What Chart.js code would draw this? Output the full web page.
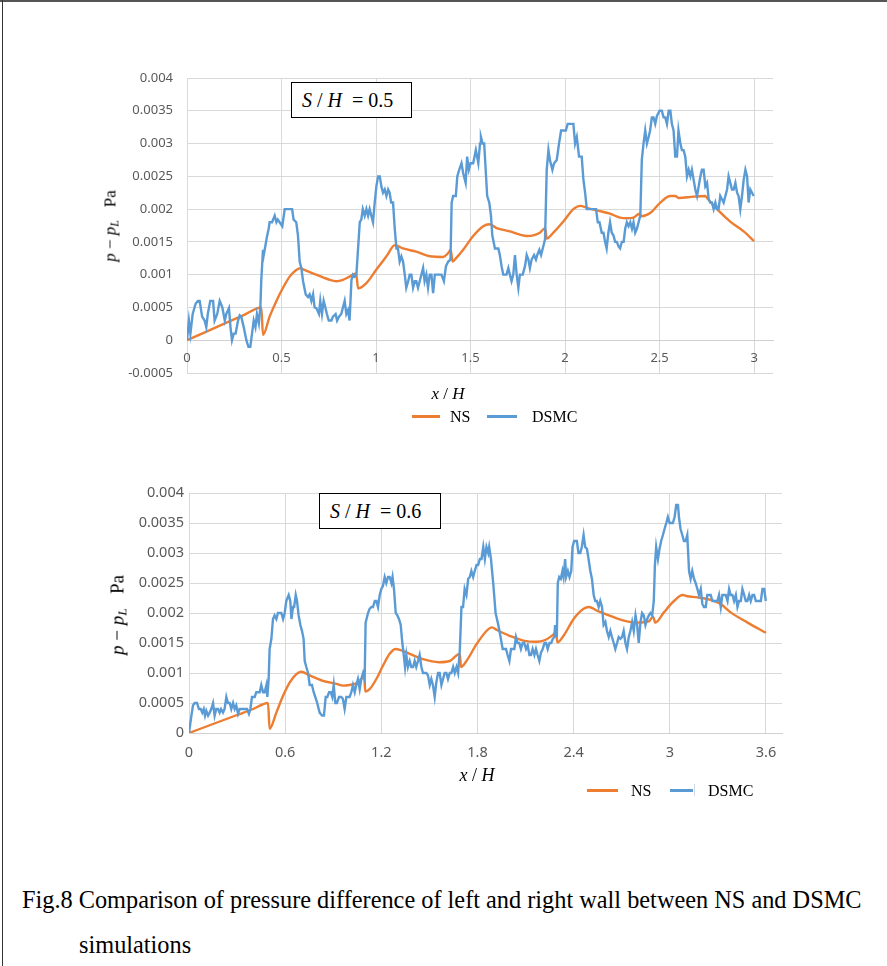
<!DOCTYPE html>
<html><head><meta charset="utf-8">
<script src="https://cdn.jsdelivr.net/npm/chart.js@4.4.0/dist/chart.umd.min.js"></script>
<style>
html,body{margin:0;padding:0;background:#fff;}
#fig{position:relative;width:887px;height:966px;overflow:hidden;background:#fff;}
.topline{position:absolute;left:0;top:0;width:887px;height:2px;background:#555;}
.leftline{position:absolute;left:2px;top:0;width:1px;height:966px;background:#333;}
canvas{position:absolute;left:0;}
.serif{font-family:"Liberation Serif","Times New Roman",serif;color:#000;position:absolute;white-space:nowrap;line-height:1;}
.ytitle{transform:translate(-50%,-50%) rotate(-90deg);}
.ctr{transform:translate(-50%,-50%);}
.vc{transform:translateY(-50%);}
.box{position:absolute;border:1.5px solid #000;background:#fff;box-sizing:border-box;}
.box span{position:absolute;left:10px;top:50%;transform:translateY(-50%);font-family:"Liberation Serif","Times New Roman",serif;font-size:20px;white-space:nowrap;line-height:1;}
.lg{position:absolute;height:2.5px;}
sub{font-size:70%;vertical-align:-0.25em;line-height:0;}
</style></head>
<body>
<div id="fig">
  <div class="topline"></div>
  <div class="leftline"></div>
  <canvas id="c1" width="887" height="440" style="top:0"></canvas>
  <canvas id="c2" width="887" height="420" style="top:440px"></canvas>

  <div class="box" style="left:291px;top:82px;width:121px;height:36px;"><span><i>S</i> / <i>H</i>&nbsp; = 0.5</span></div>
  <div class="box" style="left:319px;top:493px;width:122px;height:36px;"><span><i>S</i> / <i>H</i>&nbsp; = 0.6</span></div>

  <div class="serif ytitle" style="left:110px;top:226px;font-size:17px;"><i>p</i> − <i>p</i><sub><i>L</i></sub>&nbsp;&nbsp;&nbsp;Pa</div>
  <div class="serif ytitle" style="left:117px;top:615px;font-size:19px;"><i>p</i> − <i>p</i><sub><i>L</i></sub>&nbsp;&nbsp;&nbsp;Pa</div>

  <div class="serif ctr" style="left:448px;top:393px;font-size:17px;"><i>x</i> / <i>H</i></div>
  <div class="serif ctr" style="left:477px;top:775px;font-size:18px;"><i>x</i> / <i>H</i></div>

  <div class="lg" style="left:412px;top:415px;width:28px;background:#ED7D31;"></div>
  <div class="serif vc" style="left:450px;top:417px;font-size:16px;">NS</div>
  <div class="lg" style="left:487px;top:415px;width:30px;background:#5B9BD5;"></div>
  <div class="serif vc" style="left:532px;top:417px;font-size:16px;">DSMC</div>

  <div class="lg" style="left:587px;top:789px;width:31px;background:#ED7D31;"></div>
  <div class="serif vc" style="left:631px;top:791px;font-size:16px;">NS</div>
  <div class="lg" style="left:670px;top:789px;width:23px;background:#5B9BD5;"></div>
  <div class="lg" style="left:694px;top:784px;width:1px;height:12px;background:#cfd8e3;"></div>
  <div class="serif vc" style="left:708px;top:791px;font-size:16px;">DSMC</div>

  <div id="cap1" class="serif vc" style="left:22px;top:900px;font-size:21px;">Fig.8 Comparison of pressure difference of left and right wall between NS and DSMC</div>
  <div id="cap2" class="serif vc" style="left:79px;top:945px;font-size:21px;">simulations</div>
</div>
<script>
// ---------- DATA ----------
const xTicks1 = [0, 0.5, 1, 1.5, 2, 2.5, 3];
const yTicks1 = [-0.0005, 0, 0.0005, 0.001, 0.0015, 0.002, 0.0025, 0.003, 0.0035, 0.004];
const xTicks2 = [0, 0.6, 1.2, 1.8, 2.4, 3, 3.6];
const yTicks2 = [0, 0.0005, 0.001, 0.0015, 0.002, 0.0025, 0.003, 0.0035, 0.004];
const seriesNames = ['NS', 'DSMC'];

const ns1 = [[0,0],[0.1,0.000128],[0.2,0.000256],[0.3,0.000384],[0.393,0.0005],[0.402,0.00008],[0.437,0.00036],[0.473,0.0006],[0.508,0.0008],[0.543,0.00097],[0.578,0.00107],[0.6,0.0011],[0.614,0.00108],[0.684,0.001],[0.755,0.00092],[0.79,0.0009],[0.825,0.00092],[0.86,0.00097],[0.895,0.00102],[0.905,0.00079],[0.949,0.00087],[1.0,0.00107],[1.055,0.00128],[1.1,0.00145],[1.143,0.0014],[1.213,0.00135],[1.284,0.00128],[1.355,0.00127],[1.382,0.00133],[1.395,0.00138],[1.405,0.0012],[1.426,0.00126],[1.461,0.00138],[1.514,0.00159],[1.567,0.00174],[1.6,0.00177],[1.638,0.00171],[1.708,0.00166],[1.761,0.00161],[1.8,0.00159],[1.832,0.0016],[1.867,0.00164],[1.895,0.00171],[1.903,0.00155],[1.938,0.00164],[1.991,0.00181],[2.044,0.002],[2.08,0.00205],[2.115,0.00202],[2.168,0.00198],[2.238,0.00193],[2.291,0.00187],[2.327,0.00186],[2.362,0.00187],[2.394,0.00193],[2.405,0.00189],[2.45,0.00194],[2.504,0.0021],[2.557,0.0022],[2.583,0.0022],[2.6,0.00217],[2.68,0.00219],[2.742,0.0022],[2.751,0.00217],[2.804,0.002],[2.874,0.00181],[2.945,0.00166],[3.0,0.00151]];

const dsmc1 = [[0,0],[0.01,0.0003],[0.018,0.0001],[0.03,0.0004],[0.046,0.00056],[0.058,0.0006],[0.067,0.0006],[0.08,0.00036],[0.093,0.0003],[0.102,0.0002],[0.11,0.0004],[0.123,0.0006],[0.138,0.0006],[0.146,0.0003],[0.16,0.0004],[0.173,0.0006],[0.187,0.0005],[0.2,0.0003],[0.208,0.0004],[0.222,0.00049],[0.23,0.0002],[0.238,0],[0.247,0.0001],[0.257,0.0001],[0.27,0.0003],[0.279,0.00038],[0.287,0.00036],[0.3,0.0002],[0.314,0],[0.325,-0.0001],[0.335,-0.0001],[0.344,0.0001],[0.353,0.0003],[0.362,0.0002],[0.37,0.0004],[0.38,0.00026],[0.388,0.0005],[0.393,0.00092],[0.402,0.00138],[0.406,0.0013],[0.414,0.00143],[0.423,0.00158],[0.432,0.0017],[0.437,0.0018],[0.45,0.0018],[0.464,0.0019],[0.473,0.0018],[0.48,0.00184],[0.49,0.0018],[0.504,0.00174],[0.517,0.002],[0.543,0.002],[0.556,0.002],[0.564,0.00184],[0.578,0.0018],[0.587,0.0016],[0.596,0.0012],[0.605,0.0011],[0.614,0.0009],[0.628,0.0007],[0.64,0.00066],[0.649,0.0007],[0.658,0.0006],[0.667,0.0007],[0.675,0.0005],[0.684,0.00049],[0.698,0.0004],[0.705,0.0006],[0.714,0.0004],[0.723,0.0006],[0.732,0.0005],[0.74,0.0004],[0.75,0.0003],[0.764,0.0003],[0.772,0.00036],[0.786,0.0004],[0.794,0.0003],[0.804,0.00036],[0.816,0.0004],[0.825,0.0005],[0.834,0.0006],[0.843,0.0004],[0.852,0.00046],[0.86,0.0003],[0.87,0.00092],[0.878,0.001],[0.887,0.00097],[0.896,0.001],[0.905,0.0014],[0.914,0.0018],[0.922,0.00184],[0.93,0.002],[0.94,0.0019],[0.949,0.002],[0.958,0.0019],[0.966,0.002],[0.975,0.0019],[0.984,0.0018],[0.993,0.0021],[1.002,0.00235],[1.011,0.0025],[1.02,0.0025],[1.028,0.00235],[1.037,0.00225],[1.046,0.0023],[1.055,0.0022],[1.064,0.0023],[1.072,0.00225],[1.08,0.0021],[1.09,0.0021],[1.099,0.0017],[1.108,0.0014],[1.116,0.0014],[1.125,0.0012],[1.134,0.00128],[1.143,0.0012],[1.152,0.001],[1.16,0.0008],[1.17,0.0009],[1.178,0.001],[1.187,0.001],[1.196,0.0008],[1.205,0.0009],[1.213,0.0009],[1.222,0.0008],[1.231,0.0009],[1.24,0.001],[1.249,0.0011],[1.257,0.0009],[1.266,0.001],[1.275,0.0008],[1.284,0.001],[1.293,0.001],[1.302,0.00072],[1.311,0.001],[1.329,0.001],[1.346,0.001],[1.359,0.0009],[1.37,0.00113],[1.382,0.0012],[1.394,0.00123],[1.4,0.0021],[1.408,0.0022],[1.422,0.0022],[1.43,0.0025],[1.44,0.0026],[1.452,0.0027],[1.461,0.00255],[1.474,0.0024],[1.482,0.0028],[1.491,0.0026],[1.5,0.0027],[1.514,0.0027],[1.528,0.0029],[1.541,0.0027],[1.55,0.003],[1.555,0.0031],[1.564,0.003],[1.572,0.003],[1.58,0.0026],[1.588,0.0022],[1.599,0.0021],[1.608,0.0019],[1.615,0.0016],[1.629,0.0014],[1.647,0.0014],[1.655,0.0013],[1.664,0.00113],[1.673,0.001],[1.682,0.001],[1.69,0.001],[1.7,0.0011],[1.708,0.001],[1.717,0.0009],[1.726,0.001],[1.735,0.0013],[1.744,0.001],[1.753,0.0008],[1.761,0.001],[1.776,0.001],[1.788,0.00113],[1.797,0.0013],[1.806,0.00123],[1.814,0.0011],[1.823,0.00123],[1.836,0.0013],[1.846,0.00123],[1.853,0.0013],[1.864,0.00138],[1.873,0.0013],[1.882,0.0014],[1.894,0.00154],[1.903,0.0026],[1.912,0.0029],[1.92,0.00275],[1.933,0.0026],[1.942,0.0027],[1.956,0.00275],[1.968,0.003],[1.979,0.0032],[1.991,0.0032],[2.004,0.0032],[2.014,0.0033],[2.027,0.0033],[2.044,0.0033],[2.053,0.003],[2.062,0.0031],[2.074,0.0028],[2.088,0.0028],[2.097,0.00245],[2.106,0.00225],[2.115,0.002],[2.129,0.002],[2.15,0.002],[2.164,0.002],[2.173,0.0018],[2.182,0.0018],[2.194,0.00164],[2.203,0.00164],[2.212,0.0015],[2.22,0.0014],[2.229,0.00164],[2.238,0.0018],[2.247,0.00164],[2.256,0.0016],[2.265,0.0015],[2.274,0.0015],[2.283,0.00143],[2.291,0.0014],[2.3,0.0015],[2.31,0.0015],[2.318,0.0017],[2.327,0.0018],[2.336,0.00174],[2.345,0.0018],[2.354,0.0017],[2.362,0.0018],[2.371,0.00164],[2.38,0.0017],[2.389,0.0018],[2.398,0.0019],[2.406,0.00275],[2.415,0.003],[2.424,0.0032],[2.433,0.003],[2.442,0.0031],[2.45,0.0032],[2.459,0.0034],[2.468,0.0034],[2.477,0.0033],[2.486,0.00342],[2.5,0.0035],[2.512,0.0035],[2.521,0.0034],[2.53,0.0034],[2.539,0.0033],[2.548,0.0035],[2.557,0.0035],[2.565,0.0033],[2.574,0.0032],[2.583,0.0028],[2.592,0.0028],[2.6,0.0032],[2.61,0.003],[2.618,0.0029],[2.627,0.0029],[2.636,0.0028],[2.645,0.0025],[2.654,0.0026],[2.663,0.0025],[2.671,0.0026],[2.68,0.00245],[2.689,0.0023],[2.698,0.0022],[2.707,0.00235],[2.716,0.0025],[2.724,0.0026],[2.733,0.0026],[2.742,0.00235],[2.751,0.0024],[2.76,0.00215],[2.768,0.0021],[2.777,0.0021],[2.786,0.002],[2.795,0.0021],[2.804,0.002],[2.812,0.002],[2.821,0.0022],[2.83,0.00215],[2.839,0.0021],[2.848,0.0022],[2.857,0.0023],[2.865,0.0025],[2.874,0.0024],[2.883,0.0023],[2.892,0.0023],[2.901,0.0024],[2.91,0.00225],[2.918,0.0022],[2.927,0.002],[2.936,0.0022],[2.945,0.00245],[2.954,0.0026],[2.963,0.0025],[2.971,0.0021],[2.98,0.0023],[2.989,0.00225],[2.998,0.0022]];

const ns2 = [[0,0],[0.1,0.0001],[0.2,0.0002],[0.3,0.0003],[0.4,0.0004],[0.493,0.0005],[0.503,0.00007],[0.545,0.00034],[0.587,0.00062],[0.628,0.00084],[0.67,0.00098],[0.7,0.00102],[0.753,0.00096],[0.836,0.00087],[0.92,0.00082],[0.96,0.00079],[1.0,0.0008],[1.044,0.00083],[1.075,0.0009],[1.093,0.00093],[1.1,0.00069],[1.127,0.00073],[1.169,0.0009],[1.21,0.00112],[1.252,0.00132],[1.29,0.0014],[1.31,0.00139],[1.377,0.00132],[1.46,0.00123],[1.56,0.00118],[1.627,0.0012],[1.669,0.00129],[1.69,0.00132],[1.697,0.0011],[1.731,0.0012],[1.794,0.00148],[1.856,0.0017],[1.89,0.00176],[1.919,0.00172],[2.0,0.00162],[2.086,0.00154],[2.17,0.00152],[2.222,0.00155],[2.264,0.00162],[2.29,0.00167],[2.299,0.00151],[2.337,0.00162],[2.4,0.0019],[2.462,0.00207],[2.495,0.0021],[2.545,0.00204],[2.65,0.00193],[2.733,0.00186],[2.796,0.00184],[2.869,0.00186],[2.895,0.00194],[2.91,0.00184],[2.963,0.00201],[3.026,0.0022],[3.08,0.0023],[3.109,0.00228],[3.172,0.00226],[3.255,0.00222],[3.318,0.00215],[3.38,0.00201],[3.485,0.00184],[3.6,0.00167]];

const dsmc2 = [[0,0],[0.015,0.00029],[0.025,0.00046],[0.035,0.0005],[0.05,0.0005],[0.062,0.0004],[0.073,0.0004],[0.083,0.00034],[0.092,0.0004],[0.1,0.00029],[0.108,0.00037],[0.119,0.00029],[0.129,0.00034],[0.139,0.0004],[0.15,0.0005],[0.16,0.00029],[0.17,0.0004],[0.181,0.0004],[0.191,0.00034],[0.2,0.0004],[0.212,0.00034],[0.222,0.0004],[0.233,0.0006],[0.243,0.0005],[0.254,0.0005],[0.264,0.0004],[0.275,0.0005],[0.285,0.0004],[0.295,0.00046],[0.306,0.00032],[0.316,0.0004],[0.333,0.0004],[0.347,0.0004],[0.362,0.0004],[0.374,0.00032],[0.383,0.0004],[0.393,0.0006],[0.41,0.0006],[0.42,0.00068],[0.43,0.00068],[0.441,0.00068],[0.451,0.0008],[0.462,0.00068],[0.472,0.00068],[0.483,0.0008],[0.489,0.0006],[0.497,0.0009],[0.503,0.0014],[0.514,0.00157],[0.524,0.0019],[0.534,0.00196],[0.545,0.0019],[0.555,0.002],[0.566,0.002],[0.576,0.002],[0.587,0.0019],[0.597,0.002],[0.607,0.0022],[0.622,0.0023],[0.632,0.0022],[0.639,0.0019],[0.649,0.0021],[0.656,0.0021],[0.666,0.0023],[0.674,0.0022],[0.684,0.00196],[0.695,0.0018],[0.705,0.0017],[0.715,0.00157],[0.722,0.0012],[0.732,0.0011],[0.743,0.001],[0.753,0.0008],[0.767,0.0008],[0.778,0.00068],[0.788,0.0006],[0.8,0.0005],[0.815,0.00034],[0.83,0.00029],[0.842,0.00029],[0.853,0.0006],[0.863,0.0006],[0.874,0.00068],[0.884,0.00068],[0.894,0.0006],[0.903,0.0008],[0.913,0.0005],[0.923,0.0005],[0.936,0.0006],[0.95,0.0006],[0.96,0.00057],[0.971,0.0004],[0.982,0.0006],[0.992,0.0006],[1.002,0.0006],[1.013,0.00068],[1.023,0.0008],[1.034,0.00068],[1.044,0.0008],[1.054,0.0009],[1.065,0.00073],[1.075,0.0009],[1.086,0.001],[1.096,0.0009],[1.102,0.00184],[1.117,0.002],[1.127,0.00207],[1.138,0.0021],[1.148,0.0021],[1.159,0.0022],[1.169,0.0022],[1.179,0.0021],[1.19,0.0023],[1.2,0.0024],[1.21,0.00245],[1.221,0.0026],[1.231,0.0025],[1.242,0.0026],[1.252,0.0026],[1.263,0.0025],[1.27,0.0026],[1.279,0.0024],[1.29,0.002],[1.3,0.00196],[1.31,0.0019],[1.321,0.0018],[1.331,0.0015],[1.34,0.0013],[1.348,0.0011],[1.356,0.0013],[1.366,0.0011],[1.377,0.0012],[1.387,0.0011],[1.398,0.0011],[1.408,0.0012],[1.418,0.0011],[1.429,0.0012],[1.439,0.0013],[1.45,0.0011],[1.46,0.001],[1.47,0.001],[1.481,0.001],[1.491,0.00096],[1.502,0.0008],[1.512,0.0009],[1.522,0.0008],[1.533,0.0006],[1.543,0.00084],[1.554,0.001],[1.564,0.001],[1.575,0.0008],[1.585,0.0009],[1.595,0.001],[1.606,0.001],[1.616,0.0009],[1.627,0.001],[1.637,0.001],[1.648,0.0011],[1.658,0.001],[1.669,0.0011],[1.679,0.001],[1.69,0.0014],[1.7,0.0021],[1.71,0.0021],[1.72,0.0024],[1.731,0.0023],[1.742,0.00257],[1.752,0.0026],[1.762,0.0027],[1.773,0.0026],[1.783,0.0027],[1.794,0.0028],[1.804,0.0028],[1.815,0.0029],[1.825,0.0029],[1.836,0.0031],[1.846,0.0029],[1.856,0.0031],[1.867,0.003],[1.873,0.0031],[1.884,0.0029],[1.898,0.0025],[1.913,0.002],[1.93,0.0018],[1.944,0.0016],[1.957,0.0014],[1.965,0.0014],[1.978,0.0014],[1.988,0.0013],[1.999,0.0012],[2.009,0.0014],[2.019,0.0014],[2.03,0.0014],[2.04,0.0016],[2.05,0.0015],[2.061,0.0015],[2.071,0.0014],[2.082,0.0015],[2.092,0.0015],[2.103,0.0014],[2.113,0.00146],[2.124,0.0013],[2.134,0.0013],[2.144,0.0014],[2.155,0.0013],[2.165,0.0014],[2.175,0.0013],[2.186,0.0012],[2.196,0.00134],[2.207,0.0014],[2.218,0.0015],[2.228,0.0015],[2.238,0.0014],[2.249,0.0015],[2.26,0.0015],[2.27,0.00157],[2.28,0.0016],[2.284,0.0018],[2.295,0.0016],[2.301,0.0025],[2.31,0.0026],[2.32,0.00257],[2.33,0.0027],[2.337,0.0026],[2.347,0.0029],[2.353,0.0026],[2.364,0.0027],[2.374,0.0026],[2.385,0.0027],[2.393,0.0031],[2.403,0.0032],[2.42,0.0032],[2.43,0.003],[2.441,0.003],[2.451,0.0031],[2.462,0.0033],[2.472,0.0031],[2.483,0.00307],[2.493,0.0029],[2.504,0.0027],[2.514,0.00257],[2.525,0.0023],[2.535,0.0022],[2.545,0.0022],[2.556,0.0021],[2.566,0.0022],[2.577,0.0021],[2.587,0.0018],[2.598,0.00185],[2.608,0.0017],[2.619,0.0016],[2.629,0.0017],[2.639,0.0016],[2.65,0.0015],[2.66,0.0014],[2.671,0.0015],[2.681,0.0016],[2.692,0.00157],[2.702,0.0016],[2.712,0.0017],[2.723,0.0015],[2.733,0.0014],[2.744,0.0016],[2.754,0.0017],[2.765,0.00185],[2.775,0.0017],[2.786,0.00196],[2.796,0.0018],[2.806,0.0015],[2.817,0.00185],[2.827,0.002],[2.838,0.00196],[2.848,0.0018],[2.859,0.0019],[2.869,0.00196],[2.879,0.002],[2.89,0.00196],[2.9,0.0022],[2.907,0.0028],[2.915,0.0031],[2.926,0.0029],[2.936,0.00307],[2.946,0.0032],[2.957,0.0033],[2.967,0.0034],[2.978,0.0035],[2.988,0.0036],[2.999,0.0035],[3.009,0.0035],[3.019,0.0035],[3.03,0.0036],[3.04,0.0038],[3.051,0.0038],[3.057,0.0036],[3.067,0.0034],[3.078,0.0033],[3.088,0.0032],[3.099,0.0032],[3.109,0.0033],[3.12,0.0027],[3.13,0.00257],[3.14,0.0027],[3.151,0.00257],[3.161,0.0025],[3.172,0.0024],[3.182,0.0023],[3.193,0.0024],[3.203,0.00215],[3.213,0.0021],[3.224,0.0021],[3.234,0.0023],[3.245,0.0023],[3.255,0.0023],[3.266,0.0022],[3.276,0.0022],[3.286,0.0022],[3.297,0.0022],[3.307,0.0023],[3.318,0.0021],[3.328,0.0023],[3.339,0.0023],[3.349,0.0023],[3.36,0.0022],[3.37,0.0024],[3.38,0.0023],[3.391,0.0023],[3.401,0.0022],[3.412,0.0023],[3.422,0.0021],[3.432,0.0022],[3.443,0.0022],[3.453,0.0024],[3.464,0.0023],[3.474,0.0022],[3.484,0.0022],[3.495,0.0023],[3.505,0.0022],[3.516,0.0023],[3.526,0.0023],[3.537,0.0022],[3.547,0.0022],[3.558,0.0022],[3.568,0.0022],[3.578,0.0024],[3.589,0.0024],[3.599,0.0022]];

// ---------- CHARTS ----------
const toPts = arr => arr.map(p => ({x: p[0], y: p[1]}));
const fmt = v => String(parseFloat(Number(v).toFixed(5)));
const GRID = '#d9d9d9';
const TICK = '#595959';

function makeChart(id, o) {
  return new Chart(document.getElementById(id), {
    type: 'line',
    data: {
      datasets: [
        {label: seriesNames[1], data: toPts(o.dsmc), borderColor: '#5B9BD5', borderWidth: 2.4, pointRadius: 0, tension: 0, fill: false},
        {label: seriesNames[0], data: toPts(o.ns), borderColor: '#ED7D31', borderWidth: 2.4, pointRadius: 0, cubicInterpolationMode: 'monotone', fill: false}
      ]
    },
    options: {
      responsive: false, animation: false,
      layout: {padding: o.pad},
      plugins: {legend: {display: false}, tooltip: {enabled: false}},
      scales: {
        x: {
          type: 'linear', min: 0, max: o.xmax, position: {y: 0},
          afterBuildTicks: s => { s.ticks = o.xTicks.map(v => ({value: v})); },
          grid: {color: GRID, lineWidth: 1, drawTicks: false},
          border: {color: '#d0d0d0', width: 1},
          ticks: {padding: o.xpad, color: TICK, font: {family: '"Noto Sans", sans-serif', size: o.fs}, callback: v => fmt(v), maxRotation: 0, autoSkip: false}
        },
        y: {
          type: 'linear', min: o.yTicks[0], max: o.yTicks[o.yTicks.length - 1],
          afterBuildTicks: s => { s.ticks = o.yTicks.map(v => ({value: v})); },
          afterFit: s => { s.width = o.left; },
          grid: {color: GRID, lineWidth: 1, drawTicks: false},
          border: {display: false},
          ticks: {padding: o.ypad, color: TICK, font: {family: '"Noto Sans", sans-serif', size: o.fs}, callback: v => fmt(v), autoSkip: false}
        }
      }
    }
  });
}

makeChart('c1', {dsmc: dsmc1, ns: ns1, xmax: 3.1, xTicks: xTicks1, yTicks: yTicks1,
  pad: {top: 78, right: 114, bottom: 67, left: 0}, left: 187, fs: 13, xpad: 10, ypad: 14});
makeChart('c2', {dsmc: dsmc2, ns: ns2, xmax: 3.7, xTicks: xTicks2, yTicks: yTicks2,
  pad: {top: 53, right: 105, bottom: 127, left: 0}, left: 189, fs: 14.5, xpad: 11, ypad: 5});

// fit caption width to the reference line length
(function(){
  const c1 = document.getElementById('cap1');
  const w = c1.getBoundingClientRect().width;
  const fs = 21 * 840 / w;
  c1.style.fontSize = fs + 'px';
  document.getElementById('cap2').style.fontSize = fs + 'px';
})();
</script>
</body></html>
